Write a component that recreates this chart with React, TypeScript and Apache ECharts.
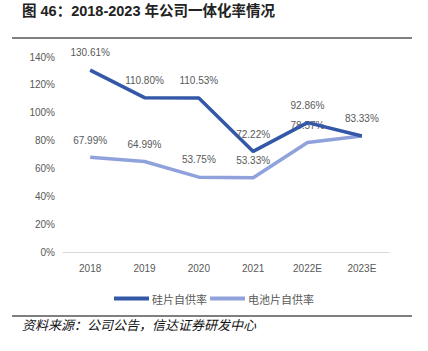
import React, { useEffect, useRef } from "react";
import * as echarts from "echarts";

const categories = ["2018", "2019", "2020", "2021", "2022E", "2023E"];
const siliconRate = [130.61, 110.8, 110.53, 72.22, 92.86, 83.33];
const cellRate = [67.99, 64.99, 53.75, 53.33, 78.57, 83.33];
const seriesNames = ["硅片自供率", "电池片自供率"];
const titleText = "图 46：2018-2023 年公司一体化率情况";
const sourceText = "资料来源：公司公告，信达证券研发中心";

const DARK = "#3458A8";
const LIGHT = "#8FA2DC";
const LABEL = "#595959";

export default function App() {
  const ref = useRef<HTMLDivElement>(null);
  useEffect(() => {
    if (!ref.current) return;
    const chart = echarts.init(ref.current, null, { renderer: "svg" });
    const font = "Liberation Sans, Arial, Noto Sans CJK SC, sans-serif";
    const cjk = "Noto Sans CJK SC, sans-serif";
    const labelCfg = {
      show: true,
      position: "top",
      distance: 12,
      color: LABEL,
      fontSize: 10,
      fontFamily: font,
      formatter: (p: any) => Number(p.value).toFixed(2) + "%",
    };
    chart.setOption({
      animation: false,
      backgroundColor: "#ffffff",
      grid: { left: 63, right: 39, top: 57, bottom: 99, containLabel: false },
      xAxis: {
        type: "category",
        data: categories,
        boundaryGap: true,
        axisLine: { show: true, lineStyle: { color: "#d9d9d9", width: 1 } },
        axisTick: { show: false },
        axisLabel: { color: LABEL, fontSize: 10, fontFamily: font, margin: 11 },
      },
      yAxis: {
        type: "value",
        min: 0,
        max: 140,
        interval: 20,
        axisLine: { show: false },
        axisTick: { show: false },
        splitLine: { show: false },
        axisLabel: {
          color: LABEL,
          fontSize: 10,
          fontFamily: font,
          margin: 8,
          formatter: "{value}%",
        },
      },
      legend: {
        data: seriesNames,
        left: "center",
        top: 288,
        icon: "rect",
        itemWidth: 35,
        itemHeight: 4,
        itemGap: 3,
        textStyle: { color: LABEL, fontSize: 11, fontFamily: cjk, padding: [0, 0, 0, -2] },
      },
      series: [
        {
          name: seriesNames[0],
          type: "line",
          data: siliconRate,
          z: 3,
          symbol: "circle",
          symbolSize: 0.5,
          showSymbol: true,
          lineStyle: { color: DARK, width: 3.5 },
          itemStyle: { color: DARK },
          label: labelCfg,
        },
        {
          name: seriesNames[1],
          type: "line",
          z: 2,
          data: cellRate.map((v, i) =>
            i === cellRate.length - 1 ? { value: v, label: { show: false } } : v
          ),
          symbol: "circle",
          symbolSize: 0.5,
          showSymbol: true,
          lineStyle: { color: LIGHT, width: 3.5 },
          itemStyle: { color: LIGHT },
          label: labelCfg,
        },
      ],
      graphic: [
        {
          type: "text",
          left: 22,
          top: 4,
          style: {
            text: titleText,
            fontSize: 14.5,
            fontWeight: "bold",
            fill: "#222222",
            fontFamily: "Liberation Sans, Noto Sans CJK SC, sans-serif",
          },
        },
        {
          type: "rect",
          shape: { x: 12, y: 37, width: 400, height: 2 },
          style: { fill: "#808080" },
        },
        {
          type: "rect",
          shape: { x: 12, y: 315.5, width: 400, height: 1 },
          style: { fill: "#000000" },
        },
        {
          type: "text",
          left: 22,
          top: 318,
          style: {
            text: sourceText,
            fontSize: 13,
            fontStyle: "italic",
            fill: "#111111",
            fontFamily: cjk,
          },
        },
      ],
    });
    return () => chart.dispose();
  }, []);
  return (
    <div
      ref={ref}
      style={{ position: "fixed", left: 0, top: 0, width: 428, height: 351 }}
    />
  );
}
